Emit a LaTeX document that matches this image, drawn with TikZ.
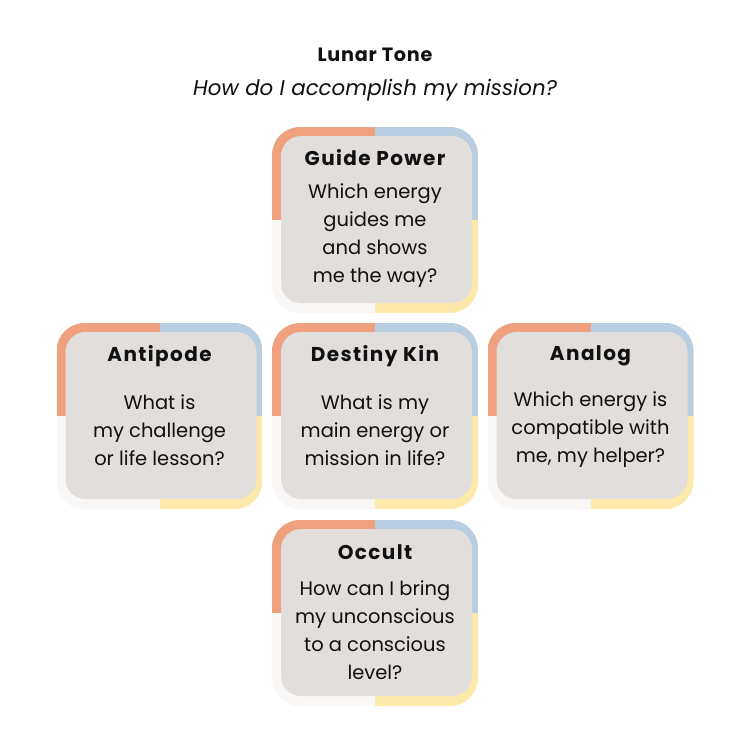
\documentclass[tikz,border=0pt]{standalone}
\usepackage{fontspec}
\setmainfont{Poppins}
\definecolor{qorange}{HTML}{EFA07E}
\definecolor{qblue}{HTML}{BACEE2}
\definecolor{qyellow}{HTML}{FDE9A9}
\definecolor{qwhite}{HTML}{FAF7F7}
\definecolor{qgrey}{HTML}{E1DEDC}
\definecolor{qtext}{HTML}{111111}
\tikzset{
  innerbox/.style={fill=qgrey, rounded corners=15pt, minimum width=143.25pt, minimum height=125.25pt, inner sep=0pt},
  boxtitle/.style={font=\fontsize{15}{17}\selectfont\bfseries\addfontfeature{LetterSpace=7}, text=qtext, inner sep=0pt, anchor=center},
  boxbody/.style={font=\fontsize{14.6}{21}\selectfont, text=qtext, align=center, inner sep=0pt, anchor=center},
}
\newcommand\kinbox[3]{%
  \begin{scope}
    \clip[rounded corners=21pt] (#2-103,#3-93) rectangle (#2+103,#3+93);
    \fill[qorange] (#2-103,#3-93) rectangle (#2,#3);
    \fill[qblue] (#2,#3-93) rectangle (#2+103,#3);
    \fill[qyellow] (#2,#3) rectangle (#2+103,#3+93);
    \fill[qwhite] (#2-103,#3) rectangle (#2,#3+93);
  \end{scope}
  \node[innerbox] (#1) at (#2+1.5,#3-0.5) {};
}
\begin{document}
\begin{tikzpicture}[x=0.75pt,y=-0.75pt]
\useasboundingbox[fill=white] (0,0) rectangle (750,750);
\node[font=\fontsize{14.4}{17}\selectfont\bfseries\addfontfeature{LetterSpace=4}, text=qtext] (title) at (375,55) {Lunar Tone};
\node[font=\fontsize{16}{19}\selectfont\itshape, text=qtext] (subtitle) at (375,90) {How do I accomplish my mission?};

\kinbox{guide}{375}{220}
\kinbox{anti}{159.5}{416}
\kinbox{destiny}{375}{416}
\kinbox{analog}{590.5}{416}
\kinbox{occult}{375}{613}

\node[boxtitle] (guidet) at (375,158) {Guide Power};
\node[boxbody] (guideb) at (375,236) {Which energy\\guides me\\and shows\\me the way?};
\node[boxtitle] (antit) at (159.5,356) {Antipode};
\node[boxbody] (antib) at (159.5,430) {What is\\my challenge\\or life lesson?};
\node[boxtitle] (destinyt) at (375,356) {Destiny Kin};
\node[boxbody] (destinyb) at (375,430) {What is my\\main energy or\\mission in life?};
\node[boxtitle] (analogt) at (590.5,356) {Analog};
\node[boxbody] (analogb) at (590.5,430) {Which energy is\\compatible with\\me, my helper?};
\node[boxtitle] (occultt) at (375,552) {Occult};
\node[boxbody] (occultb) at (375,630) {How can I bring\\my unconscious\\to a conscious\\level?};
\end{tikzpicture}
\end{document}
